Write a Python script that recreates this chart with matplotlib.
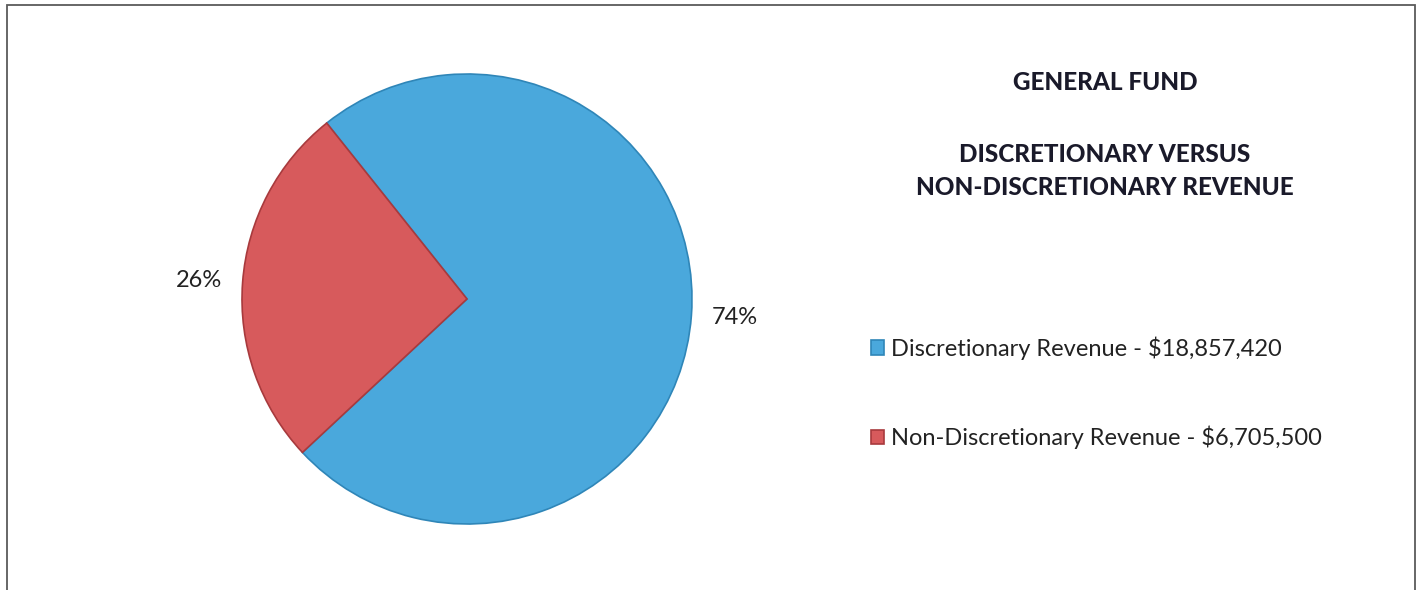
import matplotlib.pyplot as plt
from matplotlib.patches import Rectangle

categories = ["Discretionary Revenue", "Non-Discretionary Revenue"]
amounts = [18857420, 6705500]
colors = ["#4aa8dc", "#d75a5c"]
edge_colors = ["#2f86b8", "#a83a3d"]

plt.rcParams["font.family"] = ["Lato", "DejaVu Sans"]

W, H = 1419, 590
fig = plt.figure(figsize=(W / 100, H / 100), dpi=100)

# page frame around the chart
fig.patches.append(Rectangle((7 / W, -0.05), (1415 - 7) / W, (590 - 5) / H + 0.05,
                             transform=fig.transFigure, fill=False,
                             edgecolor="#5a5a5a", linewidth=1.3))

cx, cy, r = 467, 299, 225
ax = fig.add_axes([(cx - r) / W, (H - cy - r) / H, 2 * r / W, 2 * r / H])

total = sum(amounts)
pct_labels = [f"{a / total:.0%}" for a in amounts]
wedges, texts = ax.pie(amounts, colors=colors, startangle=223, counterclock=True,
                       labels=pct_labels, labeldistance=1.09, radius=1,
                       wedgeprops=dict(linewidth=1.2),
                       textprops=dict(fontsize=17, color="#222222"))
for w, ec in zip(wedges, edge_colors):
    w.set_edgecolor(ec)
ax.set_xlim(-1, 1)
ax.set_ylim(-1, 1)
ax.set_aspect("equal")

# title block
fig.text(1105 / W, 1 - 82 / H, "GENERAL FUND", ha="center", va="center",
         fontsize=17.5, fontweight="black", color="#1a1a2a")
fig.text(1105 / W, 1 - 171 / H, "DISCRETIONARY VERSUS\nNON-DISCRETIONARY REVENUE",
         ha="center", va="center", fontsize=17.5, fontweight="black", color="#1a1a2a",
         linespacing=1.55)

legend_labels = [f"{c} - ${a:,.0f}" for c, a in zip(categories, amounts)]
fig.legend(wedges, legend_labels, loc="upper left", bbox_to_anchor=(850 / W, 1 - 315 / H),
           frameon=False, fontsize=17, handlelength=0.55, handleheight=0.55,
           handletextpad=0.3, labelspacing=2.8, labelcolor="#222222")

plt.savefig("out.png", dpi=100)
plt.close(fig)
